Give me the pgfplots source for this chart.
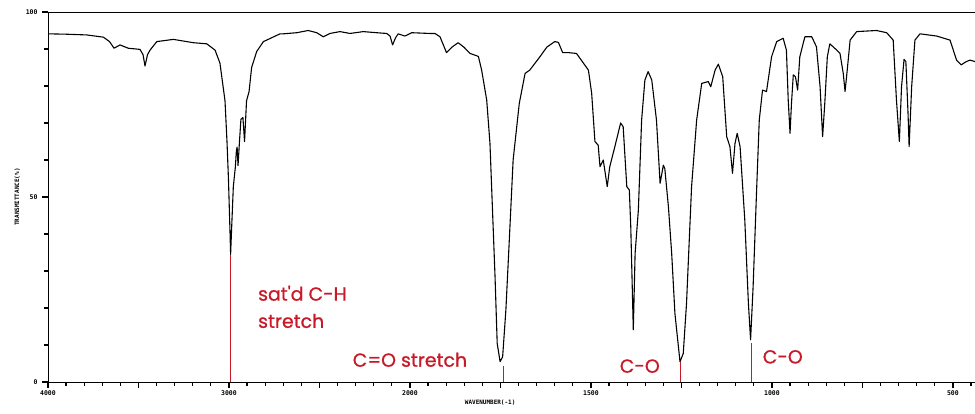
\documentclass[border=0pt]{standalone}
\usepackage{fontspec}
\setmainfont{Liberation Sans}
\newfontfamily\tickfont{DejaVu Sans Mono}
\newfontfamily\handfont[FakeBold=0.8]{Poppins}
\usepackage{pgfplots}
\pgfplotsset{compat=1.18}
\definecolor{annred}{RGB}{200,25,40}
\pgfplotstableread{
w T
4000 94.1
3900 94.0
3786 93.8
3694 93.2
3660 92.0
3635 90.2
3602 91.1
3556 90.2
3492 89.9
3475 88.5
3464 85.4
3450 88.5
3436 89.7
3399 92.0
3307 92.6
3197 91.7
3123 91.4
3077 89.7
3050 86.2
3022 76
3011 65
3003 55
2994 40
2991 34.5
2985 42
2976 52.8
2965 58
2959 62.5
2955 63.5
2950 58.5
2942 65
2934 71
2923 71.5
2914 65
2903 76
2889 78.5
2875 85
2847 89.3
2810 92.0
2792 92.4
2718 94.1
2700 94.1
2626 94.4
2562 95.0
2515 94.4
2479 93.3
2442 94.2
2387 94.7
2331 94.2
2258 94.7
2184 94.4
2129 94.2
2110 93.5
2096 91.1
2080 93.0
2065 94.1
2028 93.5
1995 94.4
1945 94.2
1931 94.2
1917 93.3
1899 89.0
1884 90.5
1867 91.7
1851 90.5
1834 88.8
1811 88.0
1802 84.3
1788 76.2
1779 64.5
1772 46.5
1765 28.5
1759 10.4
1751 5.5
1744 6.8
1735 19.5
1726 37.5
1715 60
1698 75.3
1682 83.4
1669 84.3
1641 87.9
1622 90.5
1600 92.0
1590 91.8
1578 89.0
1560 89.0
1540 88.8
1507 84.3
1498 78
1489 65
1480 64
1475 58.2
1466 60
1455 52.8
1448 58.2
1434 63.6
1418 70
1411 69
1401 52.8
1394 51.9
1390 42
1383 14.1
1378 34.8
1369 46.5
1360 70.8
1351 81.6
1342 83.9
1332 81.6
1319 70.8
1309 53.7
1300 58.6
1296 57.7
1286 47.4
1277 34.8
1268 18.5
1254 5.5
1245 7.7
1236 21.2
1222 52.8
1208 70.8
1194 80.7
1176 81.2
1169 79.8
1157 84.3
1148 85.9
1136 82.5
1125 66.3
1116 63.6
1109 56.4
1102 64.5
1096 67.2
1088 63.6
1075 43.8
1065 21.2
1059 11.4
1052 25.8
1042 52.8
1035 70.8
1026 78.9
1015 78.5
1001 87.9
987 92
969 92.9
960 89.7
955 76.2
950 67.2
946 75.3
941 83
935 82.5
929 78.9
923 87.9
909 93.3
890 93.3
877 90.6
867 79.8
860 66.3
854 75.3
847 87.9
840 91.4
821 89.7
812 88.8
803 83.4
798 78.5
792 84.3
784 92.4
766 94.7
711 95
683 94.4
665 92.4
656 76.2
648 65
642 79.8
635 87.2
630 86.6
624 72.6
621 63.6
614 79.8
605 92.4
591 94.1
545 93.5
508 92.4
490 87
477 85.7
465 86.5
453 87
439 86.6
}\spectrum
\begin{document}
\begin{tikzpicture}
\begin{axis}[
  scale only axis, width=927bp, height=370bp,
  x coord trafo/.code={\pgfmathparse{(#1>=2000)*(4000-#1)+(#1<2000)*(6000-2*#1)}},
  xmin=4000, xmax=439, ymin=0, ymax=100,
  axis x line*=bottom, axis y line*=left,
  axis line style={black, line width=0.8pt, -},
  tick align=outside,
  major tick length=6bp, minor tick length=4bp,
  every tick/.style={black, line width=1.2pt},
  xtick={4000,3500,3000,2500,2000,1750,1500,1250,1000,750,500},
  xticklabels={4000,,3000,,2000,,1500,,1000,,500},
  minor xtick={3900,3800,3700,3600,3400,3300,3200,3100,2900,2800,2700,2600,2400,2300,2200,2100,1950,1900,1850,1800,1700,1650,1600,1550,1450,1400,1350,1300,1200,1150,1100,1050,950,900,850,800,700,650,600,550,450},
  ytick={0,50,100}, minor ytick={10,20,30,40,60,70,80,90},
  /pgf/number format/assume math mode=true,
  ticklabel style={font=\tickfont\bfseries\fontsize{6.5}{7}\selectfont},
  xticklabel style={yshift=1bp},
  yticklabel style={xshift=-1bp},
  xlabel={WAVENUMBER(-1)},
  ylabel={TRANSMITTANCE(\%)},
  label style={font=\tickfont\bfseries\fontsize{6}{7}\selectfont},
  xlabel style={at={(ticklabel cs:0.477)}, anchor=north, yshift=2bp},
  ylabel style={yshift=-1bp},
  clip=false,
]
\coordinate (sw) at (rel axis cs:0,0);
\coordinate (ne) at (rel axis cs:1,1);
\draw[black, line width=0.8pt] (rel axis cs:0,1) -- (rel axis cs:1,1);
\addplot[black, line width=1.1pt, mark=none, line join=round] table[x=w, y=T] {\spectrum};
\addplot[annred, line width=0.7pt, forget plot] coordinates {(2994,0) (2994,34.3)};
\addplot[annred, line width=0.7pt, forget plot] coordinates {(1743,0) (1743,4.3)};
\addplot[annred, line width=0.7pt, forget plot] coordinates {(1254,0) (1254,5.4)};
\addplot[annred, line width=0.7pt, forget plot] coordinates {(1058,0) (1058,10.5)};
\node[annred, anchor=west, font=\handfont\fontsize{19}{20}\selectfont, inner sep=0pt] at (axis cs:2840,24) {sat'd C-H};
\node[annred, anchor=west, font=\handfont\fontsize{19}{20}\selectfont, inner sep=0pt] at (axis cs:2840,16.5) {stretch};
\node[annred, font=\handfont\fontsize{19}{20}\selectfont, inner sep=0pt] at (axis cs:2000,6) {C=O stretch};
\node[annred, font=\handfont\fontsize{19}{20}\selectfont, inner sep=0pt] at (axis cs:1365,4.3) {C-O};
\node[annred, font=\handfont\fontsize{19}{20}\selectfont, inner sep=0pt] at (axis cs:970,6.8) {C-O};
\end{axis}
\pgfresetboundingbox
\path[use as bounding box] ([xshift=-48bp,yshift=-32bp]sw) rectangle ([yshift=12bp]ne);
\end{tikzpicture}
\end{document}
